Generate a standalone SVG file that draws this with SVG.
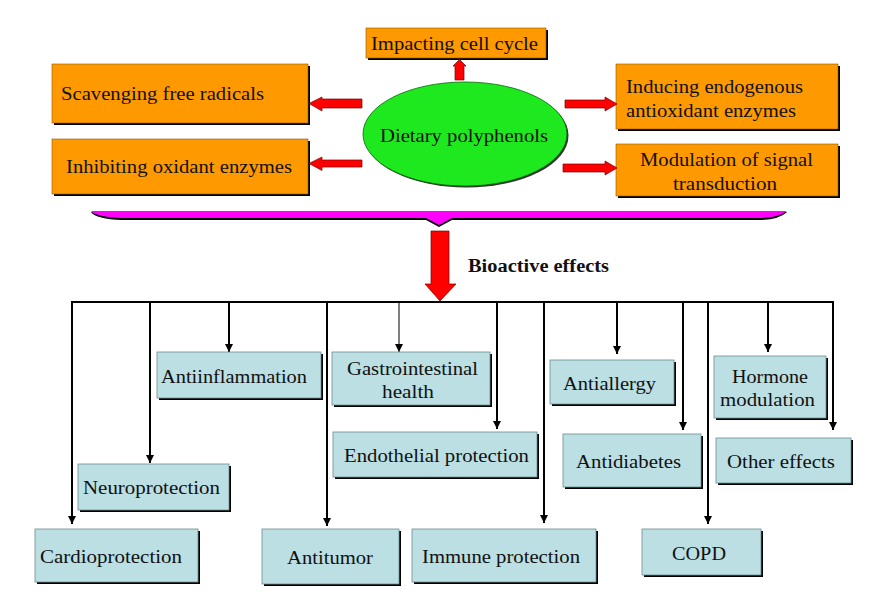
<svg xmlns="http://www.w3.org/2000/svg" width="879" height="606" viewBox="0 0 879 606">
<style>
  text { font-family: 'Liberation Serif', 'DejaVu Serif', serif; }
  .t { font-size: 19px; fill: #111; }
  .b { font-size: 18px; font-weight: bold; fill: #111; }
  .sh { fill: #000; }
  .or { fill: #ff9900; stroke: #8a5a00; stroke-width: 0.6; }
  .tl { fill: #bbdfe3; stroke: #6f8b8e; stroke-width: 0.8; }
  .ra { fill: #ff0000; stroke: #7a0000; stroke-width: 0.7; }
  .ln { stroke: #000; stroke-width: 2; fill: none; }
</style>
<defs>
  <marker id="ah" markerUnits="userSpaceOnUse" markerWidth="10" markerHeight="10" refX="8" refY="4" orient="auto">
    <path d="M0,0 L8,4 L0,8 Z" fill="#000"/>
  </marker>
</defs>
<rect width="879" height="606" fill="#fff"/>
<g font-family="Liberation Serif, DejaVu Serif, serif">

<!-- central ellipse -->
<g id="dietary">
  <ellipse cx="466.5" cy="135.5" rx="102" ry="52" fill="#333"/>
  <ellipse cx="465" cy="134" rx="102" ry="52" fill="#1ee81e" stroke="#0a6a0a" stroke-width="0.8"/>
  <text class="t" x="380" y="142" textLength="168" lengthAdjust="spacingAndGlyphs">Dietary polyphenols</text>
</g>

<g id="cellcycle">
  <rect class="sh" x="368" y="30" width="180" height="30"/>
  <rect class="or" x="366" y="28" width="180" height="30"/>
  <text class="t" x="371" y="50" textLength="167" lengthAdjust="spacingAndGlyphs">Impacting cell cycle</text>
</g>
<g id="scavenging">
  <rect class="sh" x="54" y="66" width="256" height="59"/>
  <rect class="or" x="52" y="64" width="256" height="59"/>
  <text class="t" x="61" y="100" textLength="203" lengthAdjust="spacingAndGlyphs">Scavenging free radicals</text>
</g>
<g id="inhibiting">
  <rect class="sh" x="54" y="141" width="256" height="55"/>
  <rect class="or" x="52" y="139" width="256" height="55"/>
  <text class="t" x="66" y="173" textLength="226" lengthAdjust="spacingAndGlyphs">Inhibiting oxidant enzymes</text>
</g>
<g id="inducing">
  <rect class="sh" x="618" y="66" width="222" height="65"/>
  <rect class="or" x="616" y="64" width="222" height="65"/>
  <text class="t" x="626" y="93" textLength="177" lengthAdjust="spacingAndGlyphs">Inducing endogenous</text>
  <text class="t" x="626" y="117" textLength="170" lengthAdjust="spacingAndGlyphs">antioxidant enzymes</text>
</g>
<g id="modulation">
  <rect class="sh" x="618" y="146" width="222" height="52"/>
  <rect class="or" x="616" y="144" width="222" height="52"/>
  <text class="t" x="640" y="166" textLength="173" lengthAdjust="spacingAndGlyphs">Modulation of signal</text>
  <text class="t" x="673" y="190" textLength="104" lengthAdjust="spacingAndGlyphs">transduction</text>
</g>

<!-- red block arrows -->
<g id="top-arrows">
  <polygon class="ra" points="362,99 322,99 322,97 309,103.5 322,111 322,108 362,108"/>
  <polygon class="ra" points="362,160 322,160 322,157 309,163.5 322,170.5 322,167 362,167"/>
  <polygon class="ra" points="565,100 605,100 605,97 617,104 605,111 605,108 565,108"/>
  <polygon class="ra" points="563,164 605,164 605,161 617,168 605,175 605,172 563,172"/>
  <polygon class="ra" points="455,80 455,66 453,66 459.5,59.5 466,66 464,66 464,80"/>
</g>

<!-- brace -->
<g id="brace">
  <path d="M91,212 L787,212 Q780,219 762,220 L452,220 L439,227 L426,220 L122,220 Q96,219 91,212 Z" fill="#000"/>
  <path d="M91,211 L787,211 Q780,217 762,218 L452,218 L439,225 L426,218 L122,218 Q96,217 91,211 Z" fill="#ff00ff"/>
</g>

<g id="bioactive">
  <polygon class="ra" points="431,231 449,231 449,284 456,284 440,301 425,284 431,284"/>
  <text class="b" x="468" y="272" textLength="141" lengthAdjust="spacingAndGlyphs">Bioactive effects</text>
</g>

<!-- connectors -->
<g id="connectors">
  <line class="ln" x1="71" y1="302" x2="834" y2="302"/>
  <line class="ln" x1="72" y1="302" x2="72" y2="524" marker-end="url(#ah)"/>
  <line class="ln" x1="150" y1="302" x2="150" y2="463" marker-end="url(#ah)"/>
  <line class="ln" x1="229" y1="302" x2="229" y2="352" marker-end="url(#ah)"/>
  <line class="ln" x1="327" y1="302" x2="327" y2="526" marker-end="url(#ah)"/>
  <line x1="399" y1="302" x2="399" y2="352" stroke="#000" stroke-width="1" marker-end="url(#ah)"/>
  <line class="ln" x1="497" y1="302" x2="497" y2="429" marker-end="url(#ah)"/>
  <line class="ln" x1="544" y1="302" x2="544" y2="523" marker-end="url(#ah)"/>
  <line class="ln" x1="617" y1="302" x2="617" y2="354" marker-end="url(#ah)"/>
  <line class="ln" x1="683" y1="302" x2="683" y2="430" marker-end="url(#ah)"/>
  <line class="ln" x1="708" y1="302" x2="708" y2="524" marker-end="url(#ah)"/>
  <line class="ln" x1="768" y1="302" x2="768" y2="352" marker-end="url(#ah)"/>
  <line class="ln" x1="833" y1="302" x2="833" y2="430" marker-end="url(#ah)"/>
</g>

<!-- effect boxes -->
<g id="antiinflammation">
  <rect class="sh" x="159" y="354" width="164" height="46"/>
  <rect class="tl" x="157" y="352" width="164" height="46"/>
  <text class="t" x="161" y="383" textLength="146" lengthAdjust="spacingAndGlyphs">Antiinflammation</text>
</g>
<g id="gastrointestinal">
  <rect class="sh" x="334" y="354" width="158" height="53"/>
  <rect class="tl" x="332" y="352" width="158" height="53"/>
  <text class="t" x="347" y="375" textLength="131" lengthAdjust="spacingAndGlyphs">Gastrointestinal</text>
  <text class="t" x="382" y="398" textLength="52" lengthAdjust="spacingAndGlyphs">health</text>
</g>
<g id="endothelial">
  <rect class="sh" x="335" y="434" width="204" height="45"/>
  <rect class="tl" x="333" y="432" width="204" height="45"/>
  <text class="t" x="344" y="462" textLength="185" lengthAdjust="spacingAndGlyphs">Endothelial protection</text>
</g>
<g id="neuroprotection">
  <rect class="sh" x="80" y="466" width="151" height="46"/>
  <rect class="tl" x="78" y="464" width="151" height="46"/>
  <text class="t" x="83" y="494" textLength="137" lengthAdjust="spacingAndGlyphs">Neuroprotection</text>
</g>
<g id="cardioprotection">
  <rect class="sh" x="37" y="531" width="163" height="53"/>
  <rect class="tl" x="35" y="529" width="163" height="53"/>
  <text class="t" x="40" y="563" textLength="142" lengthAdjust="spacingAndGlyphs">Cardioprotection</text>
</g>
<g id="antitumor">
  <rect class="sh" x="264" y="531" width="137" height="55"/>
  <rect class="tl" x="262" y="529" width="137" height="55"/>
  <text class="t" x="287" y="564" textLength="86" lengthAdjust="spacingAndGlyphs">Antitumor</text>
</g>
<g id="immune">
  <rect class="sh" x="414" y="531" width="184" height="53"/>
  <rect class="tl" x="412" y="529" width="184" height="53"/>
  <text class="t" x="422" y="563" textLength="158" lengthAdjust="spacingAndGlyphs">Immune protection</text>
</g>
<g id="antiallergy">
  <rect class="sh" x="552" y="362" width="124" height="44"/>
  <rect class="tl" x="550" y="360" width="124" height="44"/>
  <text class="t" x="563" y="390" textLength="93" lengthAdjust="spacingAndGlyphs">Antiallergy</text>
</g>
<g id="antidiabetes">
  <rect class="sh" x="565" y="436" width="138" height="53"/>
  <rect class="tl" x="563" y="434" width="138" height="53"/>
  <text class="t" x="576" y="468" textLength="105" lengthAdjust="spacingAndGlyphs">Antidiabetes</text>
</g>
<g id="copd">
  <rect class="sh" x="644" y="531" width="119" height="46"/>
  <rect class="tl" x="642" y="529" width="119" height="46"/>
  <text class="t" x="672" y="560" textLength="54" lengthAdjust="spacingAndGlyphs">COPD</text>
</g>
<g id="hormone">
  <rect class="sh" x="716" y="358" width="112" height="62"/>
  <rect class="tl" x="714" y="356" width="112" height="62"/>
  <text class="t" x="732" y="383" textLength="76" lengthAdjust="spacingAndGlyphs">Hormone</text>
  <text class="t" x="720" y="406" textLength="95" lengthAdjust="spacingAndGlyphs">modulation</text>
</g>
<g id="other">
  <rect class="sh" x="718" y="440" width="135" height="45"/>
  <rect class="tl" x="716" y="438" width="135" height="45"/>
  <text class="t" x="727" y="468" textLength="108" lengthAdjust="spacingAndGlyphs">Other effects</text>
</g>
</g>
</svg>
